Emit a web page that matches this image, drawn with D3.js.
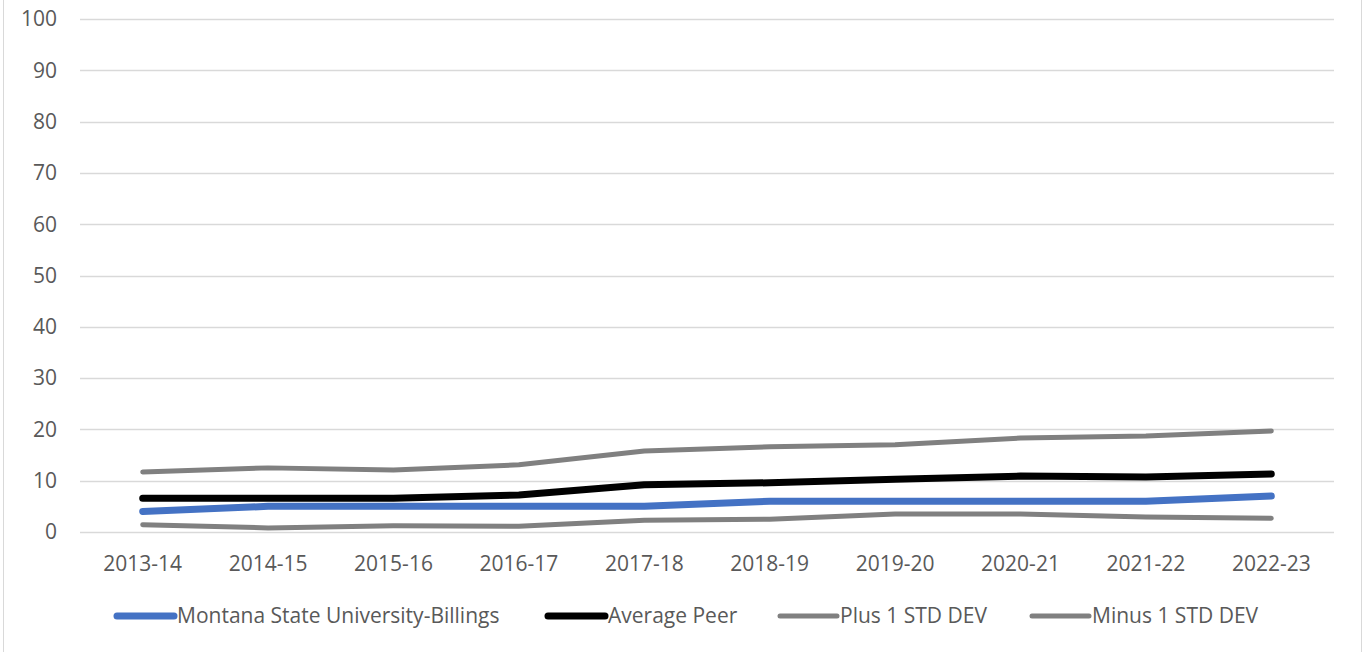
<!DOCTYPE html>
<html>
<head>
<meta charset="utf-8">
<script src="https://cdn.jsdelivr.net/npm/d3@7"></script>
<style>
  body { margin: 0; background: #fff; }
  svg { display: block; font-family: "Open Sans", sans-serif; }
</style>
</head>
<body>
<div id="chart"></div>
<script>
const years = ["2013-14", "2014-15", "2015-16", "2016-17", "2017-18",
               "2018-19", "2019-20", "2020-21", "2021-22", "2022-23"]
const msub = [4, 5, 5, 5, 5, 6, 6, 6, 6, 7]
const avgPeer = [6.6, 6.6, 6.6, 7.2, 9.2, 9.6, 10.3, 10.9, 10.7, 11.3]
const plus1 = [11.7, 12.5, 12.1, 13.1, 15.8, 16.6, 17.0, 18.3, 18.7, 19.7]
const minus1 = [1.4, 0.8, 1.2, 1.1, 2.3, 2.5, 3.5, 3.5, 2.9, 2.7]
const yTicks = [0, 10, 20, 30, 40, 50, 60, 70, 80, 90, 100]

const series = [
    { name: "Montana State University-Billings", values: msub, color: "#4472C4", width: 7 },
    { name: "Average Peer", values: avgPeer, color: "#000000", width: 7 },
    { name: "Plus 1 STD DEV", values: plus1, color: "#808080", width: 5 },
    { name: "Minus 1 STD DEV", values: minus1, color: "#808080", width: 5 }
]

const W = 1365, H = 652
const fs = 21
const svg = d3.select("#chart").append("svg")
    .attr("width", W)
    .attr("height", H)

// outer border
svg.append("rect")
    .attr("x", 3.5).attr("y", -2)
    .attr("width", 1358).attr("height", H + 4)
    .attr("fill", "none")
    .attr("stroke", "#d9d9d9")

const x = d3.scaleBand().domain(years).range([80, 1334])
const y = d3.scaleLinear().domain([0, 100]).range([532, 19])

// gridlines
svg.append("g")
    .selectAll("line")
    .data(yTicks)
    .enter().append("line")
    .attr("x1", 80).attr("x2", 1334)
    .attr("y1", d => Math.round(y(d)) + 0.5)
    .attr("y2", d => Math.round(y(d)) + 0.5)
    .attr("stroke", "#d9d9d9")
    .attr("stroke-width", 1.3)

// y labels
svg.append("g")
    .selectAll("text")
    .data(yTicks)
    .enter().append("text")
    .attr("x", 57)
    .attr("y", d => y(d))
    .attr("dy", "0.35em")
    .attr("text-anchor", "end")
    .attr("font-size", fs)
    .attr("fill", "#595959")
    .text(d => d)

// x labels
svg.append("g")
    .selectAll("text")
    .data(years)
    .enter().append("text")
    .attr("x", d => x(d) + x.bandwidth() / 2)
    .attr("y", 564)
    .attr("dy", "0.35em")
    .attr("text-anchor", "middle")
    .attr("font-size", fs)
    .attr("fill", "#595959")
    .text(d => d)

const line = d3.line()
    .x((d, i) => x(years[i]) + x.bandwidth() / 2)
    .y(d => y(d))

// draw back-to-front so the blue/black lines sit on top
const order = [3, 2, 1, 0]
svg.append("g")
    .selectAll("path")
    .data(order.map(i => series[i]))
    .enter().append("path")
    .attr("d", d => line(d.values))
    .attr("fill", "none")
    .attr("stroke", d => d.color)
    .attr("stroke-width", d => d.width)
    .attr("stroke-linecap", "round")
    .attr("stroke-linejoin", "round")

// legend
const legendX = [117, 548, 780, 1032]
const lg = svg.append("g")
series.forEach((s, i) => {
    lg.append("line")
        .attr("x1", legendX[i]).attr("x2", legendX[i] + 57)
        .attr("y1", 616).attr("y2", 616)
        .attr("stroke", s.color)
        .attr("stroke-width", s.width)
        .attr("stroke-linecap", "round")
    lg.append("text")
        .attr("x", legendX[i] + 60)
        .attr("y", 616)
        .attr("dy", "0.35em")
        .attr("font-size", fs)
        .attr("fill", "#595959")
        .text(s.name)
})
</script>
</body>
</html>
